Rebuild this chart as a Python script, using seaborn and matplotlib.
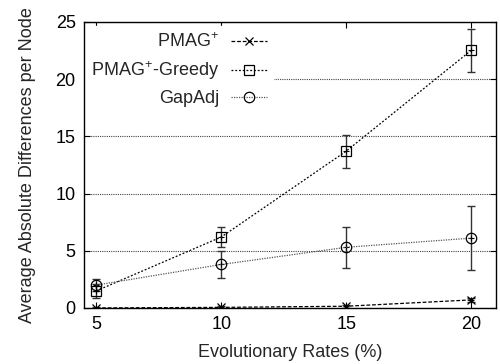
import matplotlib
matplotlib.use("Agg")
import matplotlib.pyplot as plt
import seaborn as sns
import pandas as pd
import numpy as np

rates = [5, 10, 15, 20]
pmag = [0.0, 0.05, 0.15, 0.7]
pmag_err = [0.05, 0.1, 0.15, 0.2]
greedy = [1.5, 6.2, 13.7, 22.5]
greedy_err = [0.6, 0.9, 1.45, 1.9]
gapadj = [2.0, 3.8, 5.3, 6.1]
gapadj_err = [0.5, 1.15, 1.8, 2.8]
labels = ["PMAG$^{+}$", "PMAG$^{+}$-Greedy", "GapAdj"]

sns.set_style("ticks")
plt.rcParams['font.family'] = ['Liberation Sans', 'DejaVu Sans']
plt.rcParams['mathtext.fontset'] = 'custom'
plt.rcParams['mathtext.rm'] = 'Liberation Sans'

fig = plt.figure(figsize=(5.0, 3.64), dpi=100)
ax = fig.add_axes([0.168, 0.154, 0.824, 0.786])

df = pd.DataFrame({
    "rate": rates * 3,
    "value": pmag + greedy + gapadj,
    "series": [labels[0]] * 4 + [labels[1]] * 4 + [labels[2]] * 4,
})

for y, e in [(pmag, pmag_err), (greedy, greedy_err), (gapadj, gapadj_err)]:
    ax.errorbar(rates, y, yerr=e, fmt='none', ecolor='#333333', elinewidth=1.0,
                capsize=3, capthick=1.0, zorder=3)
    ax.plot(rates, y, linestyle='none', marker='+', ms=4, mew=0.8, color='black', zorder=4)

styles = {labels[0]: ('x', (0, (3, 1.5)), 'black', 6),
          labels[1]: ('s', (0, (1.5, 1.5)), 'black', 7.5),
          labels[2]: ('o', (0, (1, 1)), '#555555', 7.5)}
for lab in labels:
    m, ls, c, ms = styles[lab]
    sub = df[df.series == lab]
    sns.lineplot(data=sub, x="rate", y="value", ax=ax, marker=m, linestyle=ls,
                 color=c, lw=0.9, ms=ms, mfc='none', mec='black', mew=0.9,
                 label=lab, zorder=5)

ax.set_xlim(4.5, 21)
ax.set_ylim(0, 25)
ax.set_xticks(rates)
ax.set_yticks([0, 5, 10, 15, 20, 25])
ax.yaxis.grid(True, linestyle=(0, (1, 1)), color='#444444', lw=0.8)
ax.xaxis.grid(False)
ax.tick_params(direction='in', top=True, right=True, length=4, width=0.8, labelsize=13,
               colors='black', pad=6)
for s in ax.spines.values():
    s.set_visible(True)
    s.set_color('black')
    s.set_linewidth(1.0)
    s.set_zorder(10)

ax.set_xlabel("Evolutionary Rates (%)", fontsize=13, labelpad=8)
ax.set_ylabel("Average Absolute Differences per Node", fontsize=13, labelpad=14)

leg = ax.legend(loc='upper left', markerfirst=False, frameon=True, fontsize=13,
                handlelength=2.0, borderaxespad=0.0, labelspacing=0.45, handletextpad=0.65,
                borderpad=0.35, bbox_to_anchor=(0.002, 0.985))
leg.get_frame().set_edgecolor('white')
leg.get_frame().set_facecolor('white')
leg.get_frame().set_alpha(1.0)
leg.get_frame().set_boxstyle('square', pad=0.0)
for t in leg.get_texts():
    t.set_ha('right')
leg._legend_box.align = 'right'

fig.savefig("out.png", dpi=100)
